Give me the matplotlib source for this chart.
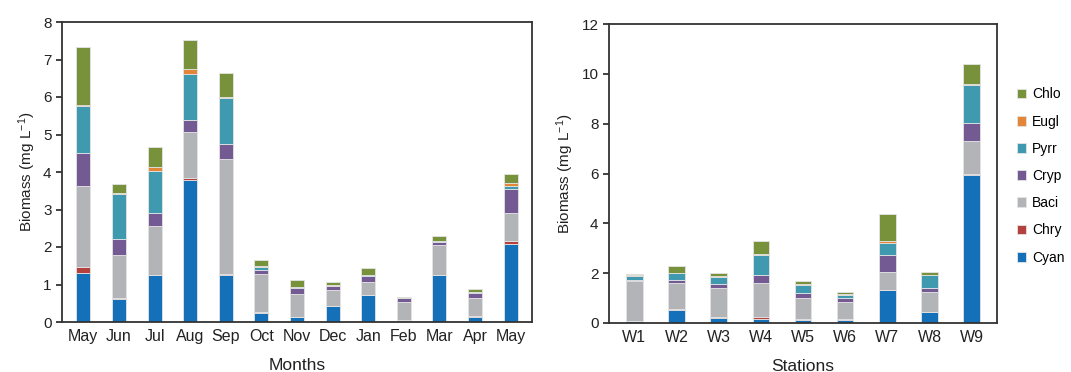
import matplotlib.pyplot as plt
import numpy as np

plt.rcParams['font.family'] = ['Liberation Sans', 'DejaVu Sans']
plt.rcParams['mathtext.default'] = 'regular'

# groupes de phytoplancton (ordre d'empilement, du bas vers le haut)
groupes = ['Cyan', 'Chry', 'Baci', 'Cryp', 'Pyrr', 'Eugl', 'Chlo']
couleurs = ['#1470b8', '#b5413f', '#b3b4b7', '#745a93', '#3f9aaf', '#e3863a', '#77923a']

# biomasse mensuelle (mg/L)
mois = ['May', 'Jun', 'Jul', 'Aug', 'Sep', 'Oct', 'Nov', 'Dec', 'Jan', 'Feb', 'Mar', 'Apr', 'May']
cyan_m = [1.32, 0.62, 1.25, 3.79, 1.25, 0.24, 0.13, 0.42, 0.72, 0.03, 1.25, 0.13, 2.09]
chry_m = [0.15, 0.03, 0.01, 0.05, 0.03, 0.02, 0.01, 0.00, 0.01, 0.02, 0.00, 0.04, 0.07]
baci_m = [2.17, 1.14, 1.30, 1.22, 3.07, 1.02, 0.60, 0.44, 0.34, 0.49, 0.80, 0.47, 0.74]
cryp_m = [0.86, 0.42, 0.34, 0.33, 0.40, 0.10, 0.17, 0.09, 0.16, 0.09, 0.08, 0.14, 0.64]
pyrr_m = [1.27, 1.20, 1.14, 1.23, 1.23, 0.09, 0.03, 0.01, 0.03, 0.01, 0.04, 0.02, 0.10]
eugl_m = [0.03, 0.03, 0.09, 0.12, 0.02, 0.02, 0.00, 0.02, 0.00, 0.00, 0.00, 0.01, 0.08]
chlo_m = [1.53, 0.25, 0.55, 0.78, 0.63, 0.16, 0.17, 0.10, 0.17, 0.04, 0.12, 0.07, 0.23]

# biomasse par station (mg/L)
stations = ['W1', 'W2', 'W3', 'W4', 'W5', 'W6', 'W7', 'W8', 'W9']
cyan_s = [0.07, 0.53, 0.22, 0.15, 0.12, 0.13, 1.31, 0.45, 5.95]
chry_s = [0.01, 0.03, 0.02, 0.09, 0.04, 0.04, 0.00, 0.00, 0.05]
baci_s = [1.60, 1.04, 1.17, 1.36, 0.83, 0.66, 0.72, 0.78, 1.32]
cryp_s = [0.06, 0.13, 0.16, 0.33, 0.20, 0.16, 0.70, 0.18, 0.71]
pyrr_s = [0.15, 0.26, 0.28, 0.80, 0.35, 0.14, 0.50, 0.50, 1.52]
eugl_s = [0.02, 0.03, 0.02, 0.02, 0.02, 0.02, 0.08, 0.03, 0.06]
chlo_s = [0.06, 0.28, 0.12, 0.53, 0.12, 0.10, 1.08, 0.11, 0.79]

def empiler(ax, labels, series, ymax, pas):
    x = np.arange(len(labels))
    bas = np.zeros(len(labels))
    barres = []
    for vals, c, nom in zip(series, couleurs, groupes):
        b = ax.bar(x, vals, 0.39, bottom=bas, color=c, edgecolor='#e4e4e4',
                   linewidth=0.6, label=nom)
        barres.append(b)
        bas = bas + np.array(vals)
    ax.set_xlim(-0.6, len(labels) - 0.4)
    ax.set_ylim(0, ymax)
    ax.set_yticks(np.arange(0, ymax + 0.01, pas))
    ax.set_xticks(x)
    ax.set_xticklabels(labels)
    ax.tick_params(axis='x', length=0, pad=5, labelsize=11.5, colors='#222222')
    ax.tick_params(axis='y', length=4, width=1.2, direction='out', labelsize=11, colors='#222222')
    for s in ax.spines.values():
        s.set_linewidth(1.3)
        s.set_color('#333333')
    ax.set_ylabel('Biomass (mg L$^{-1}$)', fontsize=11, color='#222222')
    return barres

fig = plt.figure(figsize=(10.71, 3.72), dpi=100)
ax1 = fig.add_axes([62 / 1071, 1 - 322 / 372, 470 / 1071, 300 / 372])
ax2 = fig.add_axes([609 / 1071, 1 - 323 / 372, 388 / 1071, 299 / 372])

empiler(ax1, mois, [cyan_m, chry_m, baci_m, cryp_m, pyrr_m, eugl_m, chlo_m], 8, 1)
ax1.set_xlabel('Months', fontsize=12.5, color='#222222', labelpad=10)

barres = empiler(ax2, stations, [cyan_s, chry_s, baci_s, cryp_s, pyrr_s, eugl_s, chlo_s], 12, 2)
ax2.set_xlabel('Stations', fontsize=12.5, color='#222222', labelpad=10)

# légende à droite, Chlo en haut
fig.legend(barres[::-1], groupes[::-1], loc='center left', bbox_to_anchor=(1004 / 1071, 1 - 176 / 372),
           frameon=False, fontsize=10, handlelength=0.7, handleheight=0.7,
           handletextpad=0.4, labelspacing=0.95)

fig.savefig('out.png', dpi=100)
